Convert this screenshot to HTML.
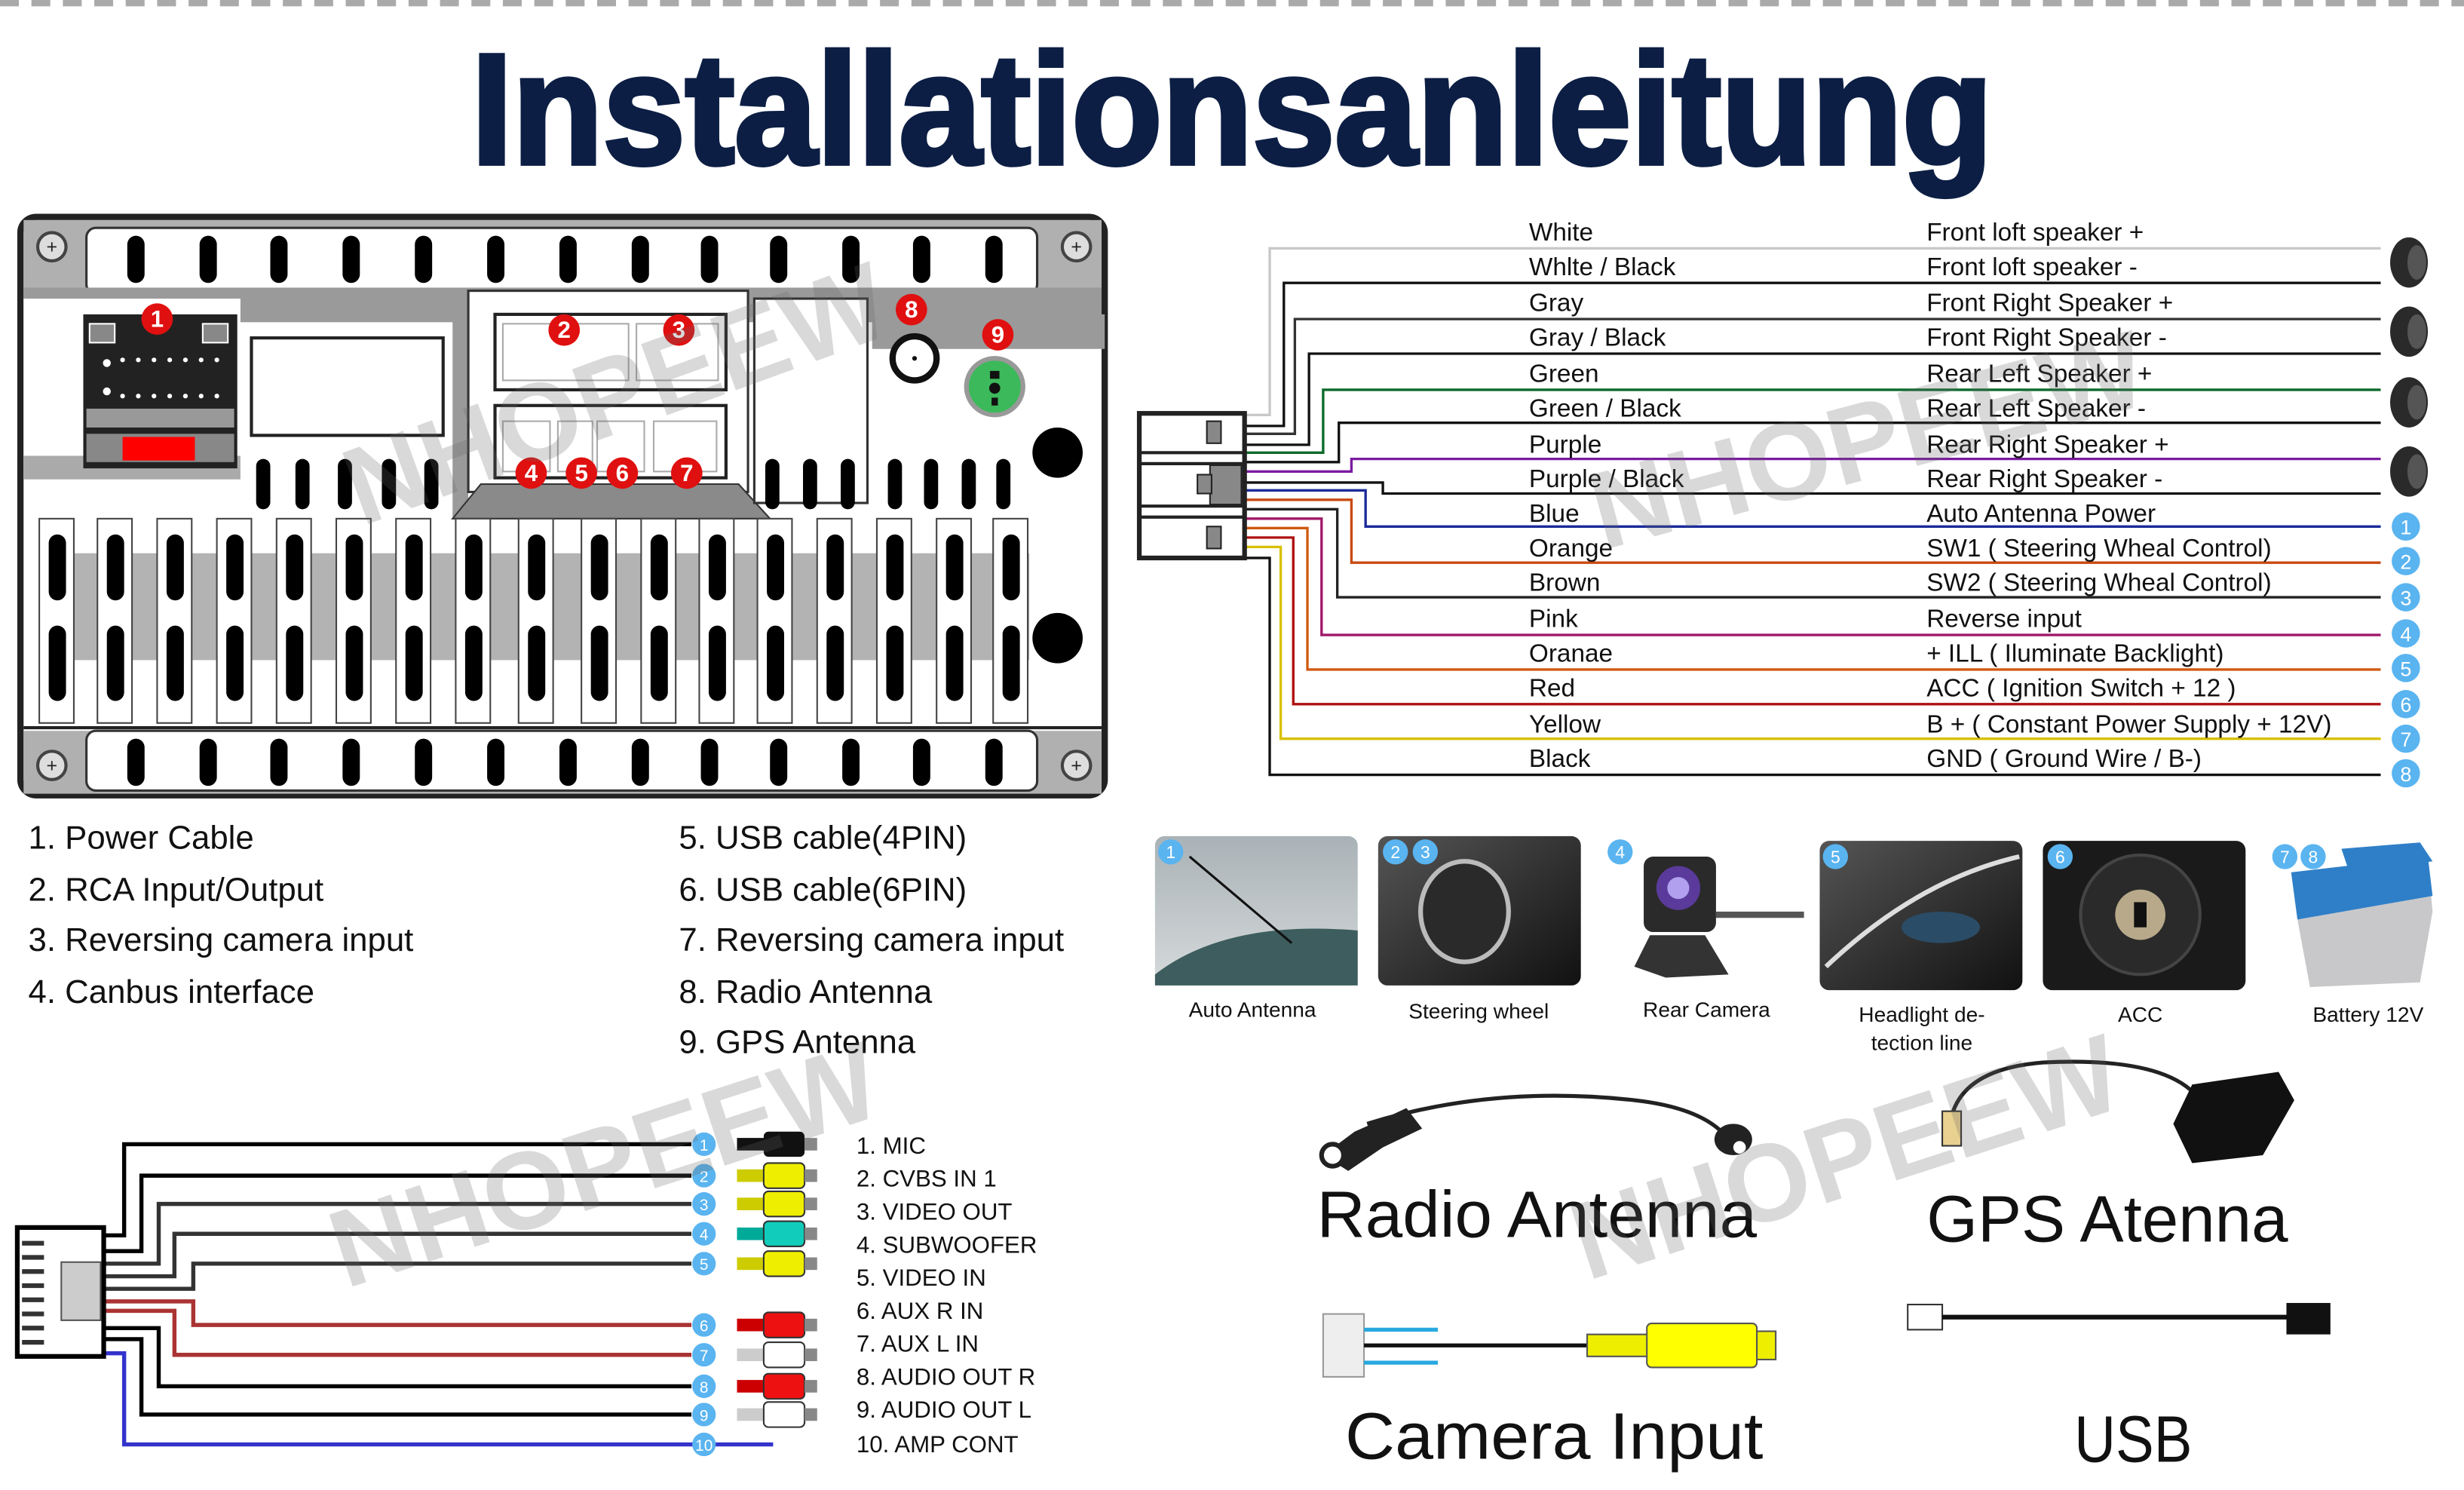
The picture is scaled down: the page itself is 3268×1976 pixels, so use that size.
<!DOCTYPE html>
<html><head><meta charset="utf-8"><style>
html,body{margin:0;padding:0;background:#fff;}
svg{display:block;}
text{font-family:"Liberation Sans",sans-serif;}
</style></head><body>
<svg width="3268" height="1976" viewBox="0 0 1568 948" preserveAspectRatio="none" xmlns="http://www.w3.org/2000/svg">
<rect width="1568" height="948" fill="#fff"/>
<line x1="0" y1="2" x2="1568" y2="2" stroke="#aaa" stroke-width="4" stroke-dasharray="12,8"/>
<text x="300" y="104" font-size="100" font-weight="bold" fill="#0c1e44" stroke="#0c1e44" stroke-width="3" textLength="968" lengthAdjust="spacingAndGlyphs" font-family="Liberation Sans Narrow, Liberation Sans, sans-serif">Installationsanleitung</text>

<g>
<rect x="13" y="138" width="690" height="368" rx="10" fill="#fff" stroke="#222" stroke-width="4"/>
<rect x="15" y="140" width="686" height="50" fill="#b0b0b0"/>
<rect x="55" y="145" width="605" height="42" rx="6" fill="#fff" stroke="#333" stroke-width="1.5"/>
<rect x="15" y="183" width="686" height="22" fill="#9a9a9a"/>
<rect x="15" y="465" width="686" height="40" fill="#b0b0b0"/>
<rect x="55" y="465" width="605" height="38" rx="6" fill="#fff" stroke="#333" stroke-width="1.5"/>
<g fill="#000">
<rect x="81" y="150" width="11" height="30" rx="5.5"/><rect x="127" y="150" width="11" height="30" rx="5.5"/><rect x="172" y="150" width="11" height="30" rx="5.5"/><rect x="218" y="150" width="11" height="30" rx="5.5"/><rect x="264" y="150" width="11" height="30" rx="5.5"/><rect x="310" y="150" width="11" height="30" rx="5.5"/><rect x="356" y="150" width="11" height="30" rx="5.5"/><rect x="402" y="150" width="11" height="30" rx="5.5"/><rect x="446" y="150" width="11" height="30" rx="5.5"/><rect x="490" y="150" width="11" height="30" rx="5.5"/><rect x="536" y="150" width="11" height="30" rx="5.5"/><rect x="581" y="150" width="11" height="30" rx="5.5"/><rect x="627" y="150" width="11" height="30" rx="5.5"/>
<rect x="81" y="470" width="11" height="30" rx="5.5"/><rect x="127" y="470" width="11" height="30" rx="5.5"/><rect x="172" y="470" width="11" height="30" rx="5.5"/><rect x="218" y="470" width="11" height="30" rx="5.5"/><rect x="264" y="470" width="11" height="30" rx="5.5"/><rect x="310" y="470" width="11" height="30" rx="5.5"/><rect x="356" y="470" width="11" height="30" rx="5.5"/><rect x="402" y="470" width="11" height="30" rx="5.5"/><rect x="446" y="470" width="11" height="30" rx="5.5"/><rect x="490" y="470" width="11" height="30" rx="5.5"/><rect x="536" y="470" width="11" height="30" rx="5.5"/><rect x="581" y="470" width="11" height="30" rx="5.5"/><rect x="627" y="470" width="11" height="30" rx="5.5"/>
</g>
<g stroke="#444" stroke-width="2" fill="#ddd"><circle cx="33" cy="157" r="9"/><circle cx="685" cy="157" r="9"/><circle cx="33" cy="487" r="9"/><circle cx="685" cy="487" r="9"/></g>
<g font-size="12" text-anchor="middle" fill="#222"><text x="33" y="161">+</text><text x="685" y="161">+</text><text x="33" y="491">+</text><text x="685" y="491">+</text></g>
<rect x="15" y="190" width="138" height="115" fill="#fff"/>
<rect x="15" y="290" width="138" height="15" fill="#aaa"/>
<rect x="53" y="200" width="98" height="98" fill="#222"/>
<rect x="55" y="260" width="94" height="12" fill="#999"/>
<rect x="55" y="276" width="94" height="18" fill="#888"/>
<rect x="78" y="278" width="46" height="15" fill="#f00"/>
<rect x="57" y="206" width="16" height="12" fill="#888" stroke="#fff"/><rect x="129" y="206" width="16" height="12" fill="#888" stroke="#fff"/>
<g fill="#fff"><circle cx="68" cy="231" r="2.5"/><circle cx="78" cy="229" r="1.5"/><circle cx="88" cy="229" r="1.5"/><circle cx="98" cy="229" r="1.5"/><circle cx="108" cy="229" r="1.5"/><circle cx="118" cy="229" r="1.5"/><circle cx="128" cy="229" r="1.5"/><circle cx="138" cy="229" r="1.5"/>
<circle cx="68" cy="249" r="2.5"/><circle cx="78" cy="252" r="1.5"/><circle cx="88" cy="252" r="1.5"/><circle cx="98" cy="252" r="1.5"/><circle cx="108" cy="252" r="1.5"/><circle cx="118" cy="252" r="1.5"/><circle cx="128" cy="252" r="1.5"/><circle cx="138" cy="252" r="1.5"/></g>
<rect x="160" y="215" width="122" height="62" fill="#fff" stroke="#222" stroke-width="2"/>
<rect x="288" y="190" width="10" height="140" fill="#9a9a9a"/>
<rect x="298" y="185" width="178" height="128" fill="#fff" stroke="#333" stroke-width="1.5"/>
<rect x="315" y="200" width="147" height="48" fill="#fff" stroke="#222" stroke-width="2"/>
<rect x="320" y="206" width="80" height="36" fill="#fff" stroke="#aaa"/><rect x="405" y="206" width="52" height="36" fill="#fff" stroke="#aaa"/>
<rect x="315" y="258" width="147" height="46" fill="#fff" stroke="#222" stroke-width="2"/>
<rect x="320" y="268" width="30" height="32" fill="#fff" stroke="#aaa"/><rect x="355" y="268" width="22" height="32" fill="#fff" stroke="#aaa"/><rect x="380" y="268" width="30" height="32" fill="#fff" stroke="#aaa"/><rect x="416" y="268" width="40" height="32" fill="#fff" stroke="#aaa"/>
<polygon points="288,330 306,308 470,308 490,330" fill="#8a8a8a" stroke="#333"/>
<rect x="480" y="190" width="72" height="130" fill="#fff" stroke="#333" stroke-width="1.5"/>
<rect x="555" y="200" width="148" height="22" fill="#9a9a9a"/>
<circle cx="582" cy="228" r="14" fill="#fff" stroke="#111" stroke-width="4"/><circle cx="582" cy="228" r="1.5" fill="#111"/>
<circle cx="633" cy="246" r="18" fill="#3cb95a" stroke="#999" stroke-width="3"/><rect x="630" y="236" width="6" height="5" fill="#111"/><circle cx="633" cy="247" r="3.5" fill="#111"/><rect x="631" y="253" width="4" height="5" fill="#111"/>
<circle cx="673" cy="288" r="16" fill="#000"/><circle cx="673" cy="406" r="16" fill="#000"/>
<g fill="#000"><rect x="163" y="292" width="9" height="32" rx="4.5"/><rect x="188" y="292" width="9" height="32" rx="4.5"/><rect x="215" y="292" width="9" height="32" rx="4.5"/><rect x="243" y="292" width="9" height="32" rx="4.5"/><rect x="270" y="292" width="9" height="32" rx="4.5"/>
<rect x="487" y="292" width="9" height="32" rx="4.5"/><rect x="511" y="292" width="9" height="32" rx="4.5"/><rect x="535" y="292" width="9" height="32" rx="4.5"/><rect x="565" y="292" width="9" height="32" rx="4.5"/><rect x="588" y="292" width="9" height="32" rx="4.5"/><rect x="612" y="292" width="9" height="32" rx="4.5"/><rect x="634" y="292" width="9" height="32" rx="4.5"/></g>
<rect x="45" y="352" width="610" height="68" fill="#b3b3b3"/>
<g fill="#fff" stroke="#444" stroke-width="1">
<rect x="25" y="330" width="22" height="130"/><rect x="62" y="330" width="22" height="130"/><rect x="100" y="330" width="22" height="130"/><rect x="138" y="330" width="22" height="130"/><rect x="176" y="330" width="22" height="130"/><rect x="214" y="330" width="22" height="130"/><rect x="252" y="330" width="22" height="130"/><rect x="290" y="330" width="22" height="130"/><rect x="330" y="330" width="22" height="130"/><rect x="370" y="330" width="22" height="130"/><rect x="408" y="330" width="22" height="130"/><rect x="445" y="330" width="22" height="130"/><rect x="482" y="330" width="22" height="130"/><rect x="520" y="330" width="22" height="130"/><rect x="558" y="330" width="22" height="130"/><rect x="596" y="330" width="22" height="130"/><rect x="632" y="330" width="22" height="130"/>
</g>
<g fill="#000">
<rect x="31" y="340" width="11" height="42" rx="5.5"/><rect x="68" y="340" width="11" height="42" rx="5.5"/><rect x="106" y="340" width="11" height="42" rx="5.5"/><rect x="144" y="340" width="11" height="42" rx="5.5"/><rect x="182" y="340" width="11" height="42" rx="5.5"/><rect x="220" y="340" width="11" height="42" rx="5.5"/><rect x="258" y="340" width="11" height="42" rx="5.5"/><rect x="296" y="340" width="11" height="42" rx="5.5"/><rect x="336" y="340" width="11" height="42" rx="5.5"/><rect x="376" y="340" width="11" height="42" rx="5.5"/><rect x="414" y="340" width="11" height="42" rx="5.5"/><rect x="451" y="340" width="11" height="42" rx="5.5"/><rect x="488" y="340" width="11" height="42" rx="5.5"/><rect x="526" y="340" width="11" height="42" rx="5.5"/><rect x="564" y="340" width="11" height="42" rx="5.5"/><rect x="602" y="340" width="11" height="42" rx="5.5"/><rect x="638" y="340" width="11" height="42" rx="5.5"/>
<rect x="31" y="398" width="11" height="48" rx="5.5"/><rect x="68" y="398" width="11" height="48" rx="5.5"/><rect x="106" y="398" width="11" height="48" rx="5.5"/><rect x="144" y="398" width="11" height="48" rx="5.5"/><rect x="182" y="398" width="11" height="48" rx="5.5"/><rect x="220" y="398" width="11" height="48" rx="5.5"/><rect x="258" y="398" width="11" height="48" rx="5.5"/><rect x="296" y="398" width="11" height="48" rx="5.5"/><rect x="336" y="398" width="11" height="48" rx="5.5"/><rect x="376" y="398" width="11" height="48" rx="5.5"/><rect x="414" y="398" width="11" height="48" rx="5.5"/><rect x="451" y="398" width="11" height="48" rx="5.5"/><rect x="488" y="398" width="11" height="48" rx="5.5"/><rect x="526" y="398" width="11" height="48" rx="5.5"/><rect x="564" y="398" width="11" height="48" rx="5.5"/><rect x="602" y="398" width="11" height="48" rx="5.5"/><rect x="638" y="398" width="11" height="48" rx="5.5"/>
</g>
<line x1="15" y1="463" x2="701" y2="463" stroke="#222" stroke-width="2"/>
<g fill="#e01010"><circle cx="100" cy="203" r="10"/><circle cx="359" cy="210" r="10"/><circle cx="432" cy="210" r="10"/><circle cx="338" cy="301" r="10"/><circle cx="370" cy="301" r="10"/><circle cx="396" cy="301" r="10"/><circle cx="437" cy="301" r="10"/><circle cx="580" cy="197" r="10"/><circle cx="635" cy="213" r="10"/></g>
<g fill="#fff" font-size="15" font-weight="bold" text-anchor="middle"><text x="100" y="208">1</text><text x="359" y="215">2</text><text x="432" y="215">3</text><text x="338" y="306">4</text><text x="370" y="306">5</text><text x="396" y="306">6</text><text x="437" y="306">7</text><text x="580" y="202">8</text><text x="635" y="218">9</text></g>
</g>

<g fill="none" stroke-width="1.6">
<polyline points="793,264 808,264 808,158 1515,158" stroke="#c8c8c8"/>
<polyline points="793,271 817,271 817,180 1515,180" stroke="#111"/>
<polyline points="793,276 824,276 824,203 1515,203" stroke="#333"/>
<polyline points="793,283 833,283 833,225 1515,225" stroke="#111"/>
<polyline points="793,288 842,288 842,248 1515,248" stroke="#0b6a2a"/>
<polyline points="793,294 852,294 852,269 1515,269" stroke="#111"/>
<polyline points="793,300 860,300 860,292 1515,292" stroke="#7a1aa0"/>
<polyline points="793,307 880,307 880,314 1515,314" stroke="#111"/>
<polyline points="793,312 869,312 869,335 1515,335" stroke="#1a2a9a"/>
<polyline points="793,318 860,318 860,358 1515,358" stroke="#c84a10"/>
<polyline points="793,324 851,324 851,380 1515,380" stroke="#222"/>
<polyline points="793,330 841,330 841,404 1515,404" stroke="#a0186a"/>
<polyline points="793,336 832,336 832,426 1515,426" stroke="#d05a10"/>
<polyline points="793,342 823,342 823,448 1515,448" stroke="#b01010"/>
<polyline points="793,348 815,348 815,470 1515,470" stroke="#d8c000"/>
<polyline points="793,355 808,355 808,493 1515,493" stroke="#111"/>
</g>
<rect x="725" y="263" width="67" height="92" fill="#fff" stroke="#222" stroke-width="3"/>
<line x1="725" y1="288" x2="792" y2="288" stroke="#222" stroke-width="2"/><line x1="725" y1="295" x2="792" y2="295" stroke="#222" stroke-width="2"/>
<line x1="725" y1="322" x2="792" y2="322" stroke="#222" stroke-width="2"/><line x1="725" y1="329" x2="792" y2="329" stroke="#222" stroke-width="2"/>
<rect x="768" y="268" width="9" height="14" fill="#888" stroke="#222"/><rect x="768" y="335" width="9" height="14" fill="#888" stroke="#222"/>
<rect x="770" y="296" width="20" height="25" fill="#888" stroke="#222"/><rect x="762" y="302" width="9" height="12" fill="#888" stroke="#222"/>
<g font-size="16" fill="#111">
<text x="973" y="153">White</text><text x="973" y="175">Whlte / Black</text><text x="973" y="198">Gray</text><text x="973" y="220">Gray / Black</text><text x="973" y="243">Green</text><text x="973" y="265">Green / Black</text><text x="973" y="288">Purple</text><text x="973" y="310">Purple / Black</text><text x="973" y="332">Blue</text><text x="973" y="354">Orange</text><text x="973" y="376">Brown</text><text x="973" y="399">Pink</text><text x="973" y="421">Oranae</text><text x="973" y="443">Red</text><text x="973" y="466">Yellow</text><text x="973" y="488">Black</text>
<text x="1226" y="153">Front loft speaker  +</text><text x="1226" y="175">Front loft speaker  -</text><text x="1226" y="198">Front Right Speaker +</text><text x="1226" y="220">Front Right Speaker -</text><text x="1226" y="243">Rear Left Speaker +</text><text x="1226" y="265">Rear Left Speaker -</text><text x="1226" y="288">Rear Right Speaker +</text><text x="1226" y="310">Rear Right Speaker -</text><text x="1226" y="332">Auto Antenna Power</text><text x="1226" y="354">SW1 ( Steering Wheal Control)</text><text x="1226" y="376">SW2 ( Steering Wheal Control)</text><text x="1226" y="399">Reverse input</text><text x="1226" y="421">+ ILL ( Iluminate Backlight)</text><text x="1226" y="443">ACC ( Ignition Switch + 12 )</text><text x="1226" y="466">B + ( Constant Power Supply + 12V)</text><text x="1226" y="488">GND ( Ground Wire / B-)</text>
</g>
<g fill="#2a2a2a"><ellipse cx="1533" cy="167" rx="12" ry="16"/><ellipse cx="1533" cy="211" rx="12" ry="16"/><ellipse cx="1533" cy="256" rx="12" ry="16"/><ellipse cx="1533" cy="300" rx="12" ry="16"/></g>
<g fill="#555"><ellipse cx="1538" cy="167" rx="6" ry="11"/><ellipse cx="1538" cy="211" rx="6" ry="11"/><ellipse cx="1538" cy="256" rx="6" ry="11"/><ellipse cx="1538" cy="300" rx="6" ry="11"/></g>
<g fill="#5ab4f0"><circle cx="1531" cy="335" r="9"/><circle cx="1531" cy="357" r="9"/><circle cx="1531" cy="380" r="9"/><circle cx="1531" cy="403" r="9"/><circle cx="1531" cy="425" r="9"/><circle cx="1531" cy="448" r="9"/><circle cx="1531" cy="470" r="9"/><circle cx="1531" cy="492" r="9"/></g>
<g fill="#fff" font-size="13" text-anchor="middle"><text x="1531" y="340">1</text><text x="1531" y="362">2</text><text x="1531" y="385">3</text><text x="1531" y="408">4</text><text x="1531" y="430">5</text><text x="1531" y="453">6</text><text x="1531" y="475">7</text><text x="1531" y="497">8</text></g>

<g font-size="21" fill="#111">
<text x="18" y="540">1.  Power Cable</text><text x="18" y="573">2.  RCA Input/Output</text><text x="18" y="605">3.  Reversing camera input</text><text x="18" y="638">4.  Canbus interface</text>
<text x="432" y="540">5.  USB cable(4PIN)</text><text x="432" y="573">6.  USB cable(6PIN)</text><text x="432" y="605">7.  Reversing camera input</text><text x="432" y="638">8.  Radio Antenna</text><text x="432" y="670">9.  GPS Antenna</text>
</g>

<defs>
<linearGradient id="g1" x1="0" y1="0" x2="0" y2="1"><stop offset="0" stop-color="#a9b2b6"/><stop offset="1" stop-color="#d6dadb"/></linearGradient>
<linearGradient id="g2" x1="0" y1="0" x2="1" y2="1"><stop offset="0" stop-color="#555"/><stop offset="1" stop-color="#111"/></linearGradient>
</defs>
<rect x="735" y="532" width="129" height="95" rx="6" fill="url(#g1)"/>
<path d="M735,620 Q780,585 864,592 L864,627 L735,627Z" fill="#3d5d5e"/>
<line x1="757" y1="545" x2="822" y2="600" stroke="#111" stroke-width="1.5"/>
<rect x="877" y="532" width="129" height="95" rx="6" fill="url(#g2)"/>
<ellipse cx="932" cy="580" rx="28" ry="32" fill="#2a2a2a" stroke="#bbb" stroke-width="3"/>
<rect x="1046" y="545" width="46" height="48" rx="6" fill="#2a2a2a"/><circle cx="1068" cy="565" r="14" fill="#5a3a9a"/><circle cx="1068" cy="565" r="7" fill="#b0a0ee"/>
<path d="M1040,615 L1050,595 L1085,595 L1100,620 L1060,622Z" fill="#333"/><rect x="1092" y="580" width="56" height="4" fill="#555"/>
<rect x="1158" y="535" width="129" height="95" rx="6" fill="url(#g2)"/>
<path d="M1162,615 Q1220,560 1285,545" stroke="#ddd" stroke-width="3" fill="none"/><ellipse cx="1235" cy="590" rx="25" ry="10" fill="#2b4c66"/>
<rect x="1300" y="535" width="129" height="95" rx="6" fill="#1a1a1a"/>
<circle cx="1362" cy="582" r="38" fill="#2a2a2a" stroke="#444" stroke-width="2"/><circle cx="1362" cy="582" r="16" fill="#b7a98a"/><rect x="1358" y="574" width="8" height="16" fill="#111"/>
<path d="M1462,555 L1545,548 L1548,580 L1540,625 L1470,628 L1462,585Z" fill="#c8c8ca"/>
<path d="M1458,555 L1545,545 L1548,570 L1462,585Z" fill="#2f7fc8"/><path d="M1490,540 L1540,536 L1548,548 L1495,555Z" fill="#2f7fc8"/>
<g fill="#5ab4f0"><circle cx="745" cy="542" r="8"/><circle cx="888" cy="542" r="8"/><circle cx="907" cy="542" r="8"/><circle cx="1031" cy="542" r="8"/><circle cx="1168" cy="545" r="8"/><circle cx="1311" cy="545" r="8"/><circle cx="1454" cy="545" r="8"/><circle cx="1472" cy="545" r="8"/></g>
<g fill="#fff" font-size="11" text-anchor="middle"><text x="745" y="546">1</text><text x="888" y="546">2</text><text x="907" y="546">3</text><text x="1031" y="546">4</text><text x="1168" y="549">5</text><text x="1311" y="549">6</text><text x="1454" y="549">7</text><text x="1472" y="549">8</text></g>
<g font-size="13.5" fill="#111" text-anchor="middle">
<text x="797" y="647">Auto Antenna</text><text x="941" y="648">Steering wheel</text><text x="1086" y="647">Rear Camera</text><text x="1223" y="650">Headlight de-</text><text x="1223" y="668">tection line</text><text x="1362" y="650">ACC</text><text x="1507" y="650">Battery 12V</text>
</g>

<g fill="none" stroke-width="2.6">
<polyline points="66,786 79,786 79,728 440,728" stroke="#000"/>
<polyline points="66,796 90,796 90,748 440,748" stroke="#000"/>
<polyline points="66,804 101,804 101,766 440,766" stroke="#333"/>
<polyline points="66,812 111,812 111,785 440,785" stroke="#333"/>
<polyline points="66,820 123,820 123,804 440,804" stroke="#333"/>
<polyline points="66,828 123,828 123,843 440,843" stroke="#a33"/>
<polyline points="66,834 111,834 111,862 440,862" stroke="#a33"/>
<polyline points="66,845 101,845 101,882 440,882" stroke="#000"/>
<polyline points="66,852 90,852 90,900 440,900" stroke="#000"/>
<polyline points="66,861 79,861 79,919 492,919" stroke="#33c"/>
</g>
<rect x="11" y="781" width="55" height="82" fill="#fff" stroke="#000" stroke-width="3"/>
<rect x="39" y="803" width="25" height="37" fill="#ccc" stroke="#555"/>
<g stroke="#333" stroke-width="3"><line x1="14" y1="791" x2="28" y2="791"/><line x1="14" y1="800" x2="28" y2="800"/><line x1="14" y1="809" x2="28" y2="809"/><line x1="14" y1="818" x2="28" y2="818"/><line x1="14" y1="827" x2="28" y2="827"/><line x1="14" y1="836" x2="28" y2="836"/><line x1="14" y1="845" x2="28" y2="845"/><line x1="14" y1="854" x2="28" y2="854"/></g>
<g>
<rect x="469" y="724" width="22" height="8" fill="#111"/><rect x="486" y="720" width="26" height="16" rx="3" fill="#111"/><rect x="512" y="724" width="8" height="8" fill="#888"/>
<rect x="469" y="744" width="22" height="8" fill="#cc0"/><rect x="486" y="740" width="26" height="16" rx="3" fill="#ee0" stroke="#333"/><rect x="512" y="744" width="8" height="8" fill="#888"/>
<rect x="469" y="762" width="22" height="8" fill="#cc0"/><rect x="486" y="758" width="26" height="16" rx="3" fill="#ee0" stroke="#333"/><rect x="512" y="762" width="8" height="8" fill="#888"/>
<rect x="469" y="781" width="22" height="8" fill="#0a9"/><rect x="486" y="777" width="26" height="16" rx="3" fill="#1cb" stroke="#333"/><rect x="512" y="781" width="8" height="8" fill="#888"/>
<rect x="469" y="800" width="22" height="8" fill="#cc0"/><rect x="486" y="796" width="26" height="16" rx="3" fill="#ee0" stroke="#333"/><rect x="512" y="800" width="8" height="8" fill="#888"/>
<rect x="469" y="839" width="22" height="8" fill="#c00"/><rect x="486" y="835" width="26" height="16" rx="3" fill="#e11" stroke="#333"/><rect x="512" y="839" width="8" height="8" fill="#888"/>
<rect x="469" y="858" width="22" height="8" fill="#ccc"/><rect x="486" y="854" width="26" height="16" rx="3" fill="#fff" stroke="#333"/><rect x="512" y="858" width="8" height="8" fill="#888"/>
<rect x="469" y="878" width="22" height="8" fill="#c00"/><rect x="486" y="874" width="26" height="16" rx="3" fill="#e11" stroke="#333"/><rect x="512" y="878" width="8" height="8" fill="#888"/>
<rect x="469" y="896" width="22" height="8" fill="#ccc"/><rect x="486" y="892" width="26" height="16" rx="3" fill="#fff" stroke="#333"/><rect x="512" y="896" width="8" height="8" fill="#888"/>
</g>
<g fill="#5ab4f0"><circle cx="448" cy="728" r="7.5"/><circle cx="448" cy="748" r="7.5"/><circle cx="448" cy="766" r="7.5"/><circle cx="448" cy="785" r="7.5"/><circle cx="448" cy="804" r="7.5"/><circle cx="448" cy="843" r="7.5"/><circle cx="448" cy="862" r="7.5"/><circle cx="448" cy="882" r="7.5"/><circle cx="448" cy="900" r="7.5"/><circle cx="448" cy="919" r="7.5"/></g>
<g fill="#fff" font-size="10" text-anchor="middle"><text x="448" y="732">1</text><text x="448" y="752">2</text><text x="448" y="770">3</text><text x="448" y="789">4</text><text x="448" y="808">5</text><text x="448" y="847">6</text><text x="448" y="866">7</text><text x="448" y="886">8</text><text x="448" y="904">9</text><text x="448" y="923">10</text></g>
<g font-size="15" fill="#111">
<text x="545" y="734">1. MIC</text><text x="545" y="755">2. CVBS IN 1</text><text x="545" y="776">3. VIDEO OUT</text><text x="545" y="797">4. SUBWOOFER</text><text x="545" y="818">5. VIDEO IN</text><text x="545" y="839">6. AUX R IN</text><text x="545" y="860">7. AUX L IN</text><text x="545" y="881">8. AUDIO OUT R</text><text x="545" y="902">9. AUDIO OUT L</text><text x="545" y="924">10. AMP CONT</text>
</g>

<path d="M870,715 Q950,690 1040,700 Q1085,705 1100,725" stroke="#222" stroke-width="2.5" fill="none"/>
<path d="M842,735 L862,720 L880,712 L895,705 L905,718 L880,730 L858,745Z" fill="#222"/><circle cx="848" cy="735" r="7" fill="#fff" stroke="#222" stroke-width="3"/>
<ellipse cx="1103" cy="725" rx="12" ry="10" fill="#222"/><circle cx="1107" cy="730" r="4" fill="#fff"/>
<path d="M1242,710 Q1250,680 1300,676 Q1380,672 1400,700" stroke="#222" stroke-width="2.5" fill="none"/>
<rect x="1236" y="707" width="12" height="22" fill="#e8d090" stroke="#333"/>
<path d="M1395,690 L1450,682 L1460,700 L1440,735 L1395,740 L1383,715Z" fill="#111"/>
<text x="838" y="787" font-size="42" fill="#111" textLength="280" lengthAdjust="spacingAndGlyphs">Radio Antenna</text>
<text x="1226" y="790" font-size="42" fill="#111" textLength="230" lengthAdjust="spacingAndGlyphs">GPS Atenna</text>
<rect x="842" y="836" width="26" height="40" fill="#eee" stroke="#999"/>
<line x1="868" y1="846" x2="915" y2="846" stroke="#29a8e0" stroke-width="2.5"/><line x1="868" y1="867" x2="915" y2="867" stroke="#29a8e0" stroke-width="2.5"/>
<line x1="868" y1="856" x2="1010" y2="856" stroke="#111" stroke-width="2.5"/>
<rect x="1010" y="849" width="40" height="14" fill="#ee0" stroke="#555"/>
<rect x="1048" y="842" width="70" height="28" rx="3" fill="#ff0" stroke="#555"/><rect x="1118" y="847" width="12" height="18" fill="#ee0" stroke="#555"/>
<rect x="1214" y="830" width="22" height="16" fill="#fff" stroke="#333"/>
<line x1="1236" y1="838" x2="1460" y2="838" stroke="#111" stroke-width="3"/>
<rect x="1455" y="829" width="28" height="20" fill="#111"/>
<text x="856" y="928" font-size="42" fill="#111" textLength="266" lengthAdjust="spacingAndGlyphs">Camera Input</text>
<text x="1320" y="930" font-size="42" fill="#111" textLength="75" lengthAdjust="spacingAndGlyphs">USB</text>

<g opacity="0.25" font-weight="bold" font-size="70" fill="#666">
<text x="230" y="335" transform="rotate(-20 230 335)">NHOPEEW</text>
<text x="1020" y="350" transform="rotate(-15 1020 350)">NHOPEEW</text>
<text x="220" y="820" transform="rotate(-18 220 820)">NHOPEEW</text>
<text x="1010" y="815" transform="rotate(-18 1010 815)">NHOPEEW</text>
</g>
</svg>
</body></html>
